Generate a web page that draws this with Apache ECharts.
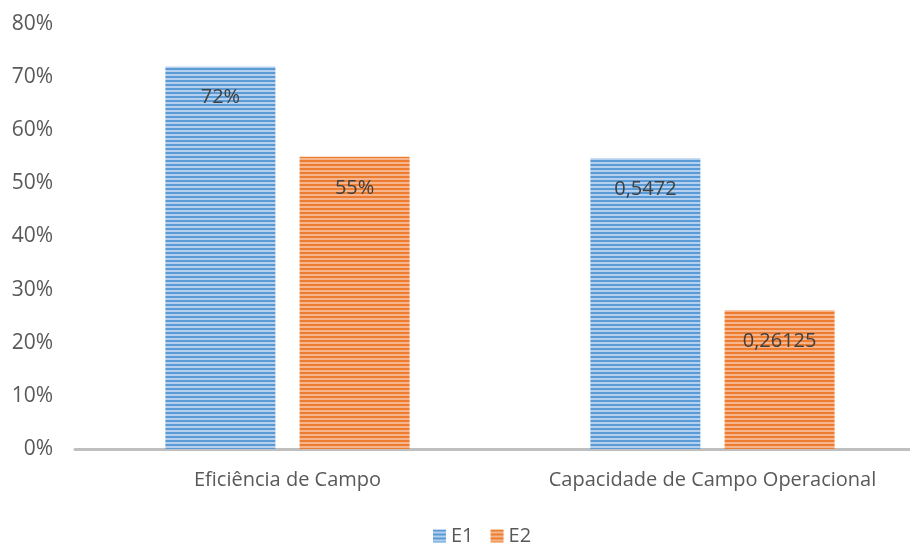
<!DOCTYPE html>
<html><head><meta charset="utf-8">
<script src="https://cdn.jsdelivr.net/npm/echarts@6/dist/echarts.min.js"></script>
<style>html,body{margin:0;padding:0;background:#fff;overflow:hidden;width:910px;height:543px}#c{width:940px;height:543px}</style>
</head><body><div id="c"></div>
<script>
const categories = ['Eficiência de Campo', 'Capacidade de Campo Operacional'];
const seriesNames = ['E1', 'E2'];
const e1Values = [0.72, 0.5472];
const e2Values = [0.55, 0.26125];
const e1Labels = ['72%', '0,5472'];
const e2Labels = ['55%', '0,26125'];

function stripe(dark, light) {
  const c = document.createElement('canvas');
  c.width = 4; c.height = 4;
  const g = c.getContext('2d');
  g.fillStyle = light; g.fillRect(0, 0, 4, 4);
  g.fillStyle = dark; g.fillRect(0, 0, 4, 2);
  return c;
}
const blueP = { image: stripe('#5b9bd5', '#b4d0ee'), repeat: 'repeat' };
const orangeP = { image: stripe('#ed7d31', '#f6b58c'), repeat: 'repeat' };

const chart = echarts.init(document.getElementById('c'));
const lbl = (arr) => ({
  show: true, position: 'insideTop', distance: 21,
  fontSize: 20, color: '#404040', fontFamily: 'Open Sans',
  formatter: p => arr[p.dataIndex]
});
chart.setOption({
  animation: false,
  textStyle: { fontFamily: 'Open Sans' },
  grid: { left: 75, top: 24, width: 850, height: 425 },
  legend: {
    left: 428, top: 521, itemWidth: 13, itemHeight: 13, itemGap: 17, icon: 'rect',
    textStyle: { fontSize: 20, color: '#595959' },
    data: [{ name: 'E1', itemStyle: { color: blueP } }, { name: 'E2', itemStyle: { color: orangeP } }]
  },
  xAxis: {
    type: 'category', data: categories,
    axisLine: { lineStyle: { color: '#bfbfbf', width: 3 } },
    axisTick: { show: false },
    axisLabel: { fontSize: 20, color: '#595959', margin: 21, interval: 0 }
  },
  yAxis: {
    type: 'value', min: 0, max: 0.8, interval: 0.1,
    axisLine: { show: false }, axisTick: { show: false },
    splitLine: { show: false },
    axisLabel: { fontSize: 21, color: '#595959', margin: 22,
      formatter: v => Math.round(v * 100) + '%' }
  },
  series: [
    { name: seriesNames[0], type: 'bar', data: e1Values, barWidth: 110, barGap: '22%',
      itemStyle: { color: blueP }, label: lbl(e1Labels) },
    { name: seriesNames[1], type: 'bar', data: e2Values, barWidth: 110,
      itemStyle: { color: orangeP }, label: lbl(e2Labels) }
  ]
});
</script></body></html>
